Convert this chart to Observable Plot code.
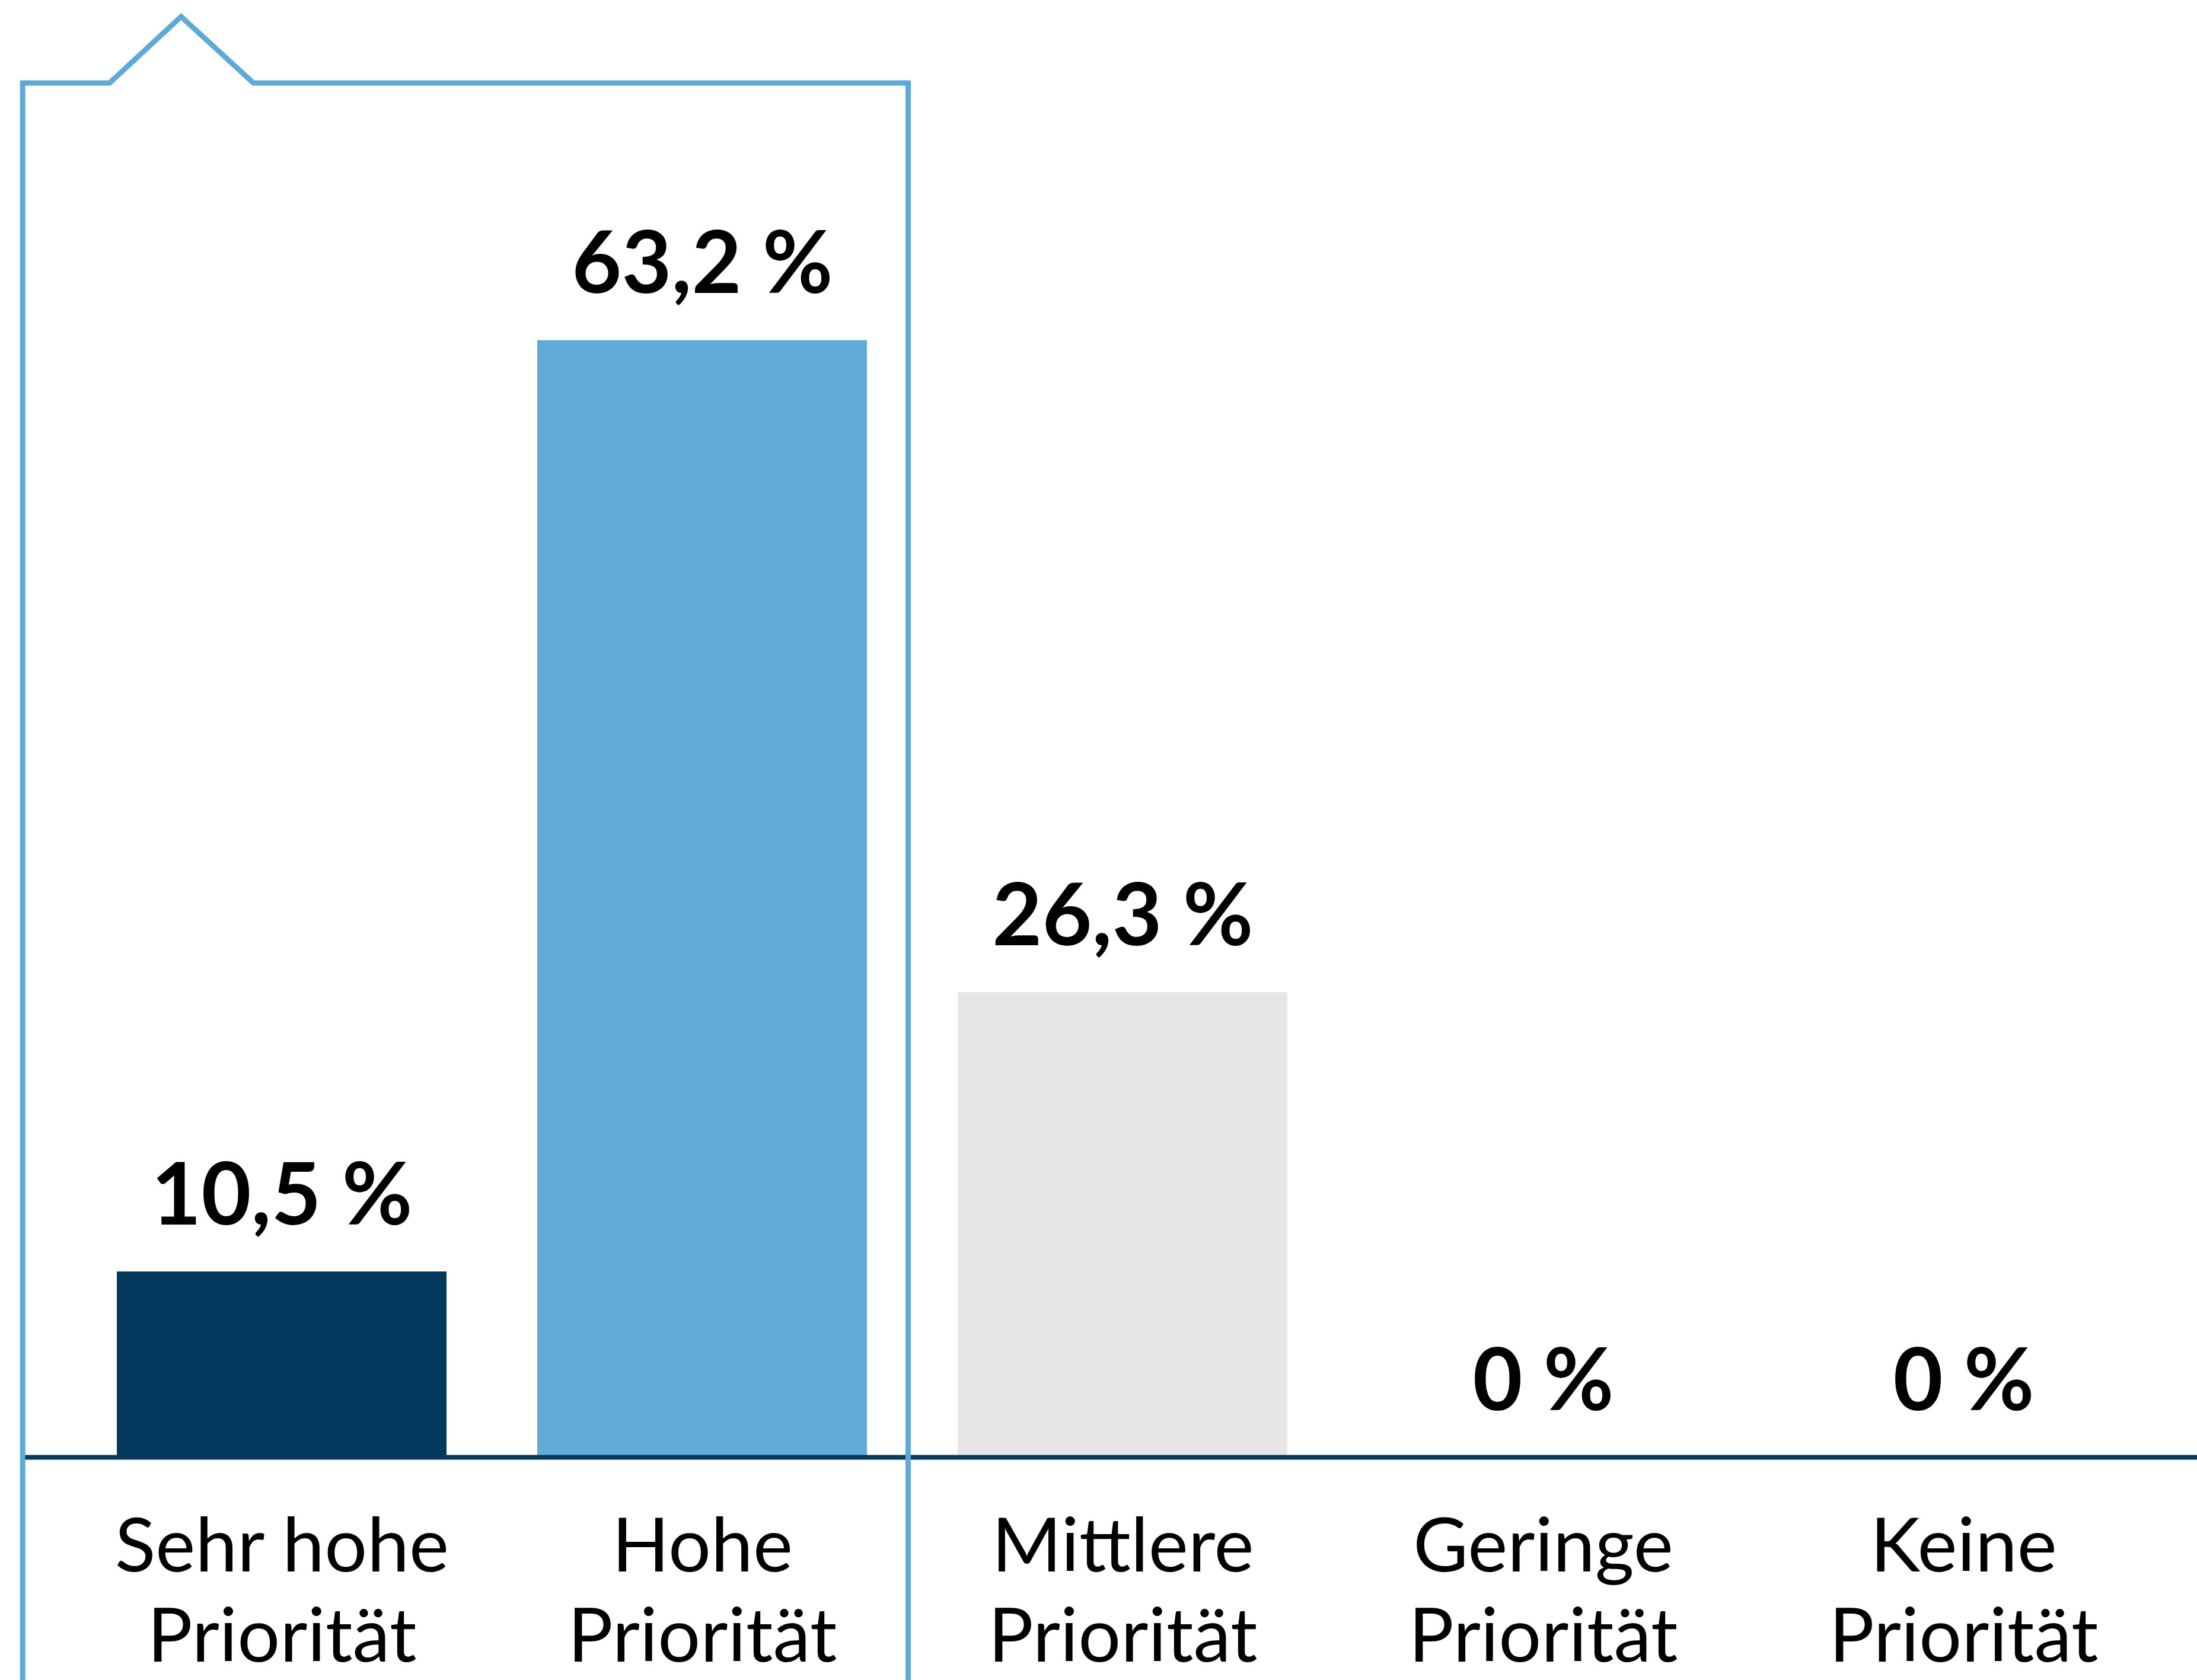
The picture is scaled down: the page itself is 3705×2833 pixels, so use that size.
<!DOCTYPE html>
<html>
<head>
<meta charset="utf-8">
<script src="https://cdn.jsdelivr.net/npm/d3@7"></script>
<script src="https://cdn.jsdelivr.net/npm/@observablehq/plot@0.6"></script>
<style>
  html, body { margin: 0; padding: 0; background: #ffffff; }
  svg { display: block; }
</style>
</head>
<body>
<div id="chart"></div>
<script>
// ---- data ----
const categories = ["Sehr hohe Priorität", "Hohe Priorität", "Mittlere Priorität", "Geringe Priorität", "Keine Priorität"];
const tickLabels = ["Sehr hohe\nPriorität", "Hohe\nPriorität", "Mittlere\nPriorität", "Geringe\nPriorität", "Keine\nPriorität"];
const values = [10.5, 63.2, 26.3, 0, 0];
const barColors = ["#03375c", "#60acd6", "#e6e6e6", "#e6e6e6", "#e6e6e6"];
const highlighted = ["Sehr hohe Priorität", "Hohe Priorität"];

const data = categories.map((c, i) => ({
  cat: c,
  value: values[i],
  color: barColors[i],
  tick: tickLabels[i],
  label: String(values[i]).replace(".", ",") + " %"
}));

const W = 3705, H = 2833;

const plot = Plot.plot({
  width: W,
  height: H,
  marginLeft: 120,
  marginRight: 40,
  marginTop: 371,
  marginBottom: 376,
  style: { fontFamily: "Lato, 'Noto Sans', sans-serif", background: "#ffffff", color: "#000" },
  x: { domain: categories, paddingInner: 0.216, paddingOuter: 0.108, axis: null },
  y: { domain: [0, 70], axis: null },
  marks: [
    Plot.barY(data, { x: "cat", y: "value", fill: "color" }),
    Plot.ruleY([0], { stroke: "#0a3b5e", strokeWidth: 8, insetLeft: -80, insetRight: -40 }),
    Plot.text(data, {
      x: "cat", y: "value", text: "label",
      lineAnchor: "bottom", dy: -80,
      fontSize: 145, fontWeight: "bold", fill: "#000"
    }),
    Plot.text(data, {
      x: "cat", y: () => 0, text: "tick",
      lineAnchor: "top", dy: 84, lineHeight: 1.2,
      fontSize: 127, fill: "#000"
    })
  ]
});

// ---- highlight bracket around the first two categories, placed via the x scale ----
const sx = plot.scale("x");
const step = sx.step, bw = sx.bandwidth;
const xL = sx.apply(highlighted[0]) - 0.224 * step;
const xR = sx.apply(highlighted[1]) + bw + 0.098 * step;
const nL = xL + 0.2066 * step, nP = xL + 0.377 * step, nR = xL + 0.549 * step;
const yTop = 140, yPeak = 28, yBot = H + 20;
const path = document.createElementNS("http://www.w3.org/2000/svg", "path");
path.setAttribute("d", `M${xL},${yBot} L${xL},${yTop} L${nL},${yTop} L${nP},${yPeak} L${nR},${yTop} L${xR},${yTop} L${xR},${yBot}`);
path.setAttribute("fill", "none");
path.setAttribute("stroke", "#5eaad6");
path.setAttribute("stroke-width", 9);
path.setAttribute("stroke-linejoin", "miter");
plot.append(path);

document.getElementById("chart").append(plot);
</script>
</body>
</html>
